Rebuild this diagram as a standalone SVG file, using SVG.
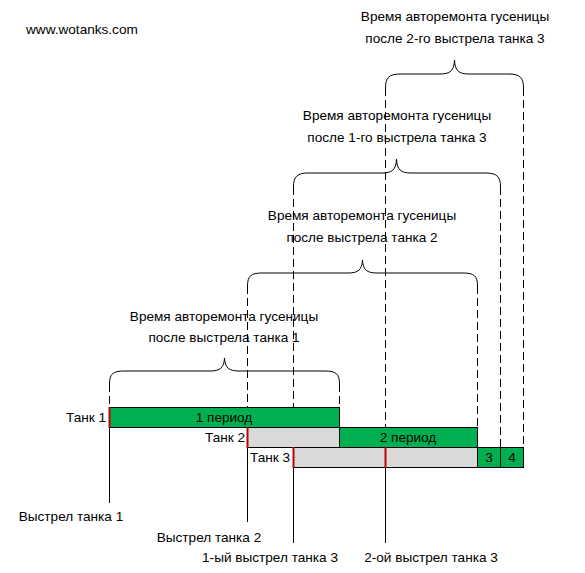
<svg xmlns="http://www.w3.org/2000/svg" width="585" height="573" viewBox="0 0 585 573">
<style>
text{font-family:"Liberation Sans",Arial,sans-serif;font-size:13.6px;fill:#000}
.m{text-anchor:middle}
.e{text-anchor:end}
.brace{fill:none;stroke:#000;stroke-width:1}
.dash{stroke:#000;stroke-width:1;stroke-dasharray:8 4;fill:none}
.solid{stroke:#000;stroke-width:1;fill:none}
.g{fill:#00B050;stroke:#000;stroke-width:1}
.gr{fill:#D9D9D9;stroke:#000;stroke-width:1}
.red{stroke:#C00000;stroke-width:2}
</style>
<rect width="585" height="573" fill="#fff"/>
<text id="site" x="26" y="34">www.wotanks.com</text>

<g id="connectors">
<path class="dash" d="M109.5 384V407M339.5 384V407"/>
<path class="dash" d="M247.5 286V407M477.5 286V427"/>
<path class="dash" d="M293.5 187V407M500.5 187V447"/>
<path class="dash" d="M385.5 88V427M523.5 88V447"/>
<path class="solid" d="M109.5 427V503M247.5 447V522M293.5 467V543M385.5 467V543"/>
</g>

<g id="brace1">
<path class="brace" d="M109.5 384C109.5 374 113 371 124 371L210 371C220 371 224 368 224.5 358C225 368 229 371 239 371L325 371C336 371 339.5 374 339.5 384"/>
<text class="m" x="224" y="321">Время авторемонта гусеницы</text>
<text class="m" x="224" y="342">после выстрела танка 1</text>
</g>
<g id="brace2">
<path class="brace" d="M247.5 286C247.5 276 251 273 262 273L348 273C358 273 362 270 362.5 260C363 270 367 273 377 273L463 273C474 273 477.5 276 477.5 286"/>
<text class="m" x="362" y="220">Время авторемонта гусеницы</text>
<text class="m" x="362" y="242">после выстрела танка 2</text>
</g>
<g id="brace3">
<path class="brace" d="M293.5 187C293.5 177 297 173 308 173L382 173C392 173 396 170 396.5 159C397 170 401 173 411 173L486 173C497 173 500.5 177 500.5 187"/>
<text class="m" x="397" y="120">Время авторемонта гусеницы</text>
<text class="m" x="397" y="142">после 1-го выстрела танка 3</text>
</g>
<g id="brace4">
<path class="brace" d="M385.5 88C385.5 78 389 74 400 74L440 74C450 74 454 71 454.5 60C455 71 459 74 469 74L509 74C520 74 523.5 78 523.5 88"/>
<text class="m" x="455" y="21">Время авторемонта гусеницы</text>
<text class="m" x="455" y="43">после 2-го выстрела танка 3</text>
</g>

<g id="tank1">
<rect class="g" x="109.5" y="407.5" width="230" height="20"/>
<line class="red" x1="109.5" y1="407" x2="109.5" y2="428"/>
<text class="e" x="106" y="421.5">Танк 1</text>
<text class="m" x="224" y="422">1 период</text>
</g>
<g id="tank2">
<rect class="gr" x="247.5" y="427.5" width="92" height="20"/>
<rect class="g" x="339.5" y="427.5" width="138" height="20"/>
<line class="red" x1="247.5" y1="427" x2="247.5" y2="448"/>
<text class="e" x="245" y="441.5">Танк 2</text>
<text class="m" x="408" y="442">2 период</text>
</g>
<g id="tank3">
<rect class="gr" x="293.5" y="447.5" width="184" height="20"/>
<rect class="g" x="477.5" y="447.5" width="23" height="20"/>
<rect class="g" x="500.5" y="447.5" width="23" height="20"/>
<line class="red" x1="293.5" y1="447" x2="293.5" y2="468"/>
<line class="red" x1="385.5" y1="447" x2="385.5" y2="468"/>
<text class="e" x="290" y="461.5">Танк 3</text>
<text class="m" x="489" y="462">3</text>
<text class="m" x="512" y="462">4</text>
</g>

<g id="shot-labels">
<text class="m" x="71" y="521">Выстрел танка 1</text>
<text class="m" x="209" y="541.5">Выстрел танка 2</text>
<text class="m" x="270" y="561.5">1-ый выстрел танка 3</text>
<text class="m" x="431" y="561.5">2-ой выстрел танка 3</text>
</g>
</svg>
